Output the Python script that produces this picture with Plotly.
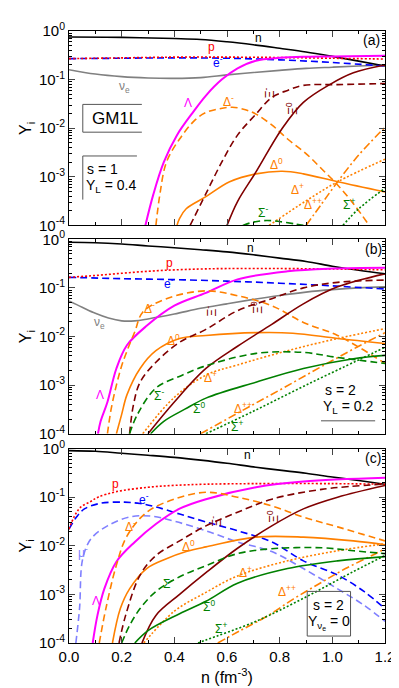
import plotly.graph_objects as go
from plotly.subplots import make_subplots

# ---------- panel (a): GM1L, s = 1, Y_L = 0.4 ----------
a_n_x = [0, 0.2, 0.4, 0.5, 0.6, 0.7, 0.8, 0.9, 1.0, 1.1, 1.2]
a_n_y = [0.75, 0.74, 0.70, 0.67, 0.60, 0.52, 0.44, 0.37, 0.30, 0.24, 0.19]
a_p_x = [0, 0.2, 0.4, 0.6, 0.8, 1.0, 1.2]
a_p_y = [0.27, 0.28, 0.29, 0.29, 0.285, 0.275, 0.265]
a_e_x = [0, 0.2, 0.4, 0.6, 0.8, 1.0, 1.2]
a_e_y = [0.27, 0.275, 0.28, 0.275, 0.255, 0.225, 0.19]
a_nu_x = [0, 0.1, 0.2, 0.3, 0.4, 0.5, 0.6, 0.7, 0.8, 0.9, 1.0, 1.1, 1.2]
a_nu_y = [0.16, 0.13, 0.115, 0.108, 0.106, 0.11, 0.125, 0.14, 0.155, 0.17, 0.18, 0.19, 0.2]
a_lam_x = [0.29, 0.32, 0.36, 0.41, 0.47, 0.52, 0.58, 0.64, 0.71, 0.8, 0.9, 1.0, 1.2]
a_lam_y = [1e-4, 4.3e-4, 2.0e-3, 7.2e-3, 0.021, 0.047, 0.10, 0.17, 0.245, 0.28, 0.295, 0.30, 0.31]
a_dm_x = [0.33, 0.345, 0.37, 0.42, 0.48, 0.52, 0.57, 0.62, 0.67, 0.71, 0.77, 0.83, 0.9, 0.96, 1.02, 1.08, 1.14]
a_dm_y = [1e-4, 4.3e-4, 2.0e-3, 6.0e-3, 0.015, 0.021, 0.025, 0.027, 0.024, 0.0195, 0.0117, 6.0e-3, 3.0e-3, 1.45e-3, 6.8e-4, 2.8e-4, 1e-4]
a_d0_x = [0.41, 0.42, 0.445, 0.52, 0.61, 0.71, 0.81, 0.89, 1.02, 1.2]
a_d0_y = [1e-4, 1.4e-4, 2.2e-4, 3.9e-4, 7.9e-4, 1.15e-3, 1.3e-3, 1.15e-3, 7.9e-4, 4.9e-4]
a_xm_x = [0.46, 0.52, 0.58, 0.64, 0.71, 0.77, 0.83, 0.89, 1.02, 1.2]
a_xm_y = [1e-4, 4.5e-4, 2.0e-3, 7.2e-3, 0.0195, 0.043, 0.06, 0.076, 0.079, 0.083]
a_x0_x = [0.6, 0.64, 0.71, 0.81, 0.89, 0.99, 1.08, 1.2]
a_x0_y = [1e-4, 3.1e-4, 1.26e-3, 0.01, 0.034, 0.079, 0.138, 0.2]
a_dp_x = [0.76, 0.9, 1.02, 1.2]
a_dp_y = [1e-4, 3.2e-4, 7.9e-4, 2.3e-3]
a_dpp_x = [0.9, 0.96, 1.02, 1.1, 1.2]
a_dpp_y = [1e-4, 2.8e-4, 7.9e-4, 2.8e-3, 0.0105]
a_sm_x = [0.66, 0.7, 0.75, 0.8, 0.86, 0.89]
a_sm_y = [1e-4, 1.17e-4, 1.26e-4, 1.2e-4, 1.07e-4, 1e-4]
a_sp_x = [1.04, 1.1, 1.2]
a_sp_y = [1e-4, 2.2e-4, 5.8e-4]

# ---------- panel (b): s = 2, Y_L = 0.2 ----------
b_n_x = [0, 0.1, 0.2, 0.3, 0.4, 0.5, 0.6, 0.7, 0.8, 0.9, 1.0, 1.1, 1.2]
b_n_y = [0.87, 0.85, 0.8, 0.73, 0.67, 0.61, 0.55, 0.48, 0.41, 0.35, 0.28, 0.23, 0.195]
b_p_x = [0, 0.1, 0.2, 0.3, 0.4, 0.5, 0.6, 0.8, 1.0, 1.2]
b_p_y = [0.165, 0.18, 0.2, 0.22, 0.235, 0.245, 0.25, 0.25, 0.245, 0.235]
b_e_x = [0, 0.2, 0.4, 0.6, 0.8, 1.0, 1.2]
b_e_y = [0.165, 0.155, 0.148, 0.138, 0.125, 0.11, 0.095]
b_nu_x = [0, 0.05, 0.1, 0.15, 0.2, 0.25, 0.3, 0.4, 0.5, 0.6, 0.7, 0.8, 0.9, 1.0, 1.1, 1.2]
b_nu_y = [0.054, 0.04, 0.03, 0.024, 0.021, 0.021, 0.023, 0.029, 0.038, 0.047, 0.058, 0.07, 0.082, 0.092, 0.1, 0.105]
b_lam_x = [0.11, 0.12, 0.146, 0.18, 0.22, 0.295, 0.4, 0.52, 0.64, 0.83, 1.0, 1.2]
b_lam_y = [1e-4, 1.8e-4, 4.5e-4, 2.2e-3, 6.6e-3, 0.0166, 0.043, 0.079, 0.15, 0.22, 0.25, 0.26]
b_dm_x = [0.146, 0.16, 0.18, 0.2, 0.22, 0.25, 0.28, 0.37, 0.52, 0.64, 0.77, 0.89, 1.02, 1.2]
b_dm_y = [1e-4, 3.2e-4, 1e-3, 2.5e-3, 5e-3, 0.0126, 0.0316, 0.06, 0.087, 0.069, 0.043, 0.0195, 0.0105, 2.8e-3]
b_d0_x = [0.18, 0.2, 0.22, 0.27, 0.33, 0.42, 0.52, 0.71, 0.85, 1.02, 1.2]
b_d0_y = [1e-4, 2.5e-4, 6.3e-4, 2.2e-3, 5.1e-3, 9.1e-3, 0.0105, 0.012, 0.0117, 9.1e-3, 7.2e-3]
b_xm_x = [0.23, 0.245, 0.27, 0.33, 0.42, 0.52, 0.64, 0.77, 0.89, 1.02, 1.2]
b_xm_y = [1e-4, 4e-4, 1.15e-3, 2.95e-3, 7.6e-3, 0.014, 0.034, 0.06, 0.1, 0.13, 0.145]
b_x0_x = [0.3, 0.4, 0.52, 0.64, 0.77, 0.89, 1.02, 1.2]
b_x0_y = [1e-4, 4.5e-4, 2.2e-3, 6.3e-3, 0.0178, 0.047, 0.105, 0.195]
b_sm_x = [0.23, 0.26, 0.33, 0.43, 0.51, 0.71, 0.89, 1.02, 1.2]
b_sm_y = [1e-4, 2.5e-4, 8.7e-4, 1.6e-3, 2.4e-3, 4.5e-3, 4.7e-3, 3.7e-3, 2.8e-3]
b_s0_x = [0.31, 0.36, 0.44, 0.52, 0.71, 0.89, 1.08, 1.2]
b_s0_y = [1e-4, 1.8e-4, 3.2e-4, 5.4e-4, 1.15e-3, 2.2e-3, 3.5e-3, 4.1e-3]
b_dp_x = [0.28, 0.4, 0.52, 0.64, 0.83, 1.02, 1.2]
b_dp_y = [1e-4, 5.6e-4, 1.6e-3, 2.6e-3, 5.1e-3, 9.1e-3, 0.0145]
b_dpp_x = [0.5, 0.6, 0.7, 0.8, 0.9, 1.0, 1.1, 1.2]
b_dpp_y = [1e-4, 2e-4, 4e-4, 7.9e-4, 1.6e-3, 3.2e-3, 6.3e-3, 0.012]
b_sp_x = [0.52, 0.7, 0.9, 1.1, 1.2]
b_sp_y = [1e-4, 2.9e-4, 1e-3, 3.3e-3, 6e-3]

# ---------- panel (c): s = 2, Y_nu_e = 0 ----------
c_n_x = [0, 0.1, 0.2, 0.3, 0.4, 0.5, 0.6, 0.7, 0.8, 0.9, 1.0, 1.1, 1.2]
c_n_y = [0.91, 0.88, 0.8, 0.73, 0.66, 0.58, 0.5, 0.42, 0.36, 0.31, 0.26, 0.22, 0.185]
c_p_x = [0, 0.02, 0.045, 0.08, 0.11, 0.18, 0.3, 0.4, 0.52, 0.7, 1.0, 1.2]
c_p_y = [0.022, 0.04, 0.063, 0.08, 0.1, 0.13, 0.16, 0.175, 0.185, 0.19, 0.19, 0.185]
c_e_x = [0, 0.03, 0.06, 0.12, 0.21, 0.27, 0.33, 0.42, 0.52, 0.64, 0.77, 0.89, 1.02, 1.12, 1.2]
c_e_y = [0.022, 0.04, 0.058, 0.075, 0.079, 0.074, 0.063, 0.045, 0.031, 0.0204, 0.012, 4.9e-3, 2.5e-3, 1.15e-3, 5.1e-4]
c_mu_x = [0.026, 0.04, 0.052, 0.083, 0.146, 0.23, 0.31, 0.4, 0.52, 0.64, 0.77, 0.89, 1.02, 1.12, 1.2]
c_mu_y = [1e-4, 5.1e-4, 5.4e-3, 0.0138, 0.0257, 0.039, 0.041, 0.032, 0.0204, 0.012, 7.6e-3, 3.4e-3, 1.3e-3, 6e-4, 2.8e-4]
c_lam_x = [0.09, 0.108, 0.134, 0.18, 0.25, 0.33, 0.42, 0.52, 0.71, 0.89, 1.2]
c_lam_y = [1e-4, 3.7e-4, 1.3e-3, 4.7e-3, 0.012, 0.028, 0.058, 0.091, 0.16, 0.21, 0.25]
c_dm_x = [0.115, 0.14, 0.18, 0.22, 0.295, 0.4, 0.52, 0.64, 0.77, 0.89, 1.02, 1.2]
c_dm_y = [1e-4, 5.1e-4, 4e-3, 0.0158, 0.049, 0.091, 0.126, 0.1, 0.066, 0.039, 0.0245, 0.0126]
c_d0_x = [0.165, 0.195, 0.23, 0.295, 0.37, 0.445, 0.52, 0.71, 0.89, 1.08, 1.2]
c_d0_y = [1e-4, 5.1e-4, 1.3e-3, 3.4e-3, 5.4e-3, 7.6e-3, 9.5e-3, 0.0151, 0.0151, 0.0126, 0.0105]
c_xm_x = [0.19, 0.215, 0.27, 0.33, 0.42, 0.52, 0.64, 0.77, 0.96, 1.2]
c_xm_y = [1e-4, 3.7e-4, 2.5e-3, 6.3e-3, 0.0126, 0.0257, 0.049, 0.091, 0.145, 0.186]
c_x0_x = [0.277, 0.33, 0.42, 0.52, 0.64, 0.77, 0.89, 1.02, 1.2]
c_x0_y = [1e-4, 3.7e-4, 1e-3, 2.8e-3, 8.9e-3, 0.0257, 0.0575, 0.1, 0.174]
c_sm_x = [0.2, 0.23, 0.27, 0.33, 0.42, 0.52, 0.64, 0.77, 0.96, 1.08, 1.2]
c_sm_y = [1e-4, 2.3e-4, 5.1e-4, 1.15e-3, 2.3e-3, 3.9e-3, 6.9e-3, 8.7e-3, 9.1e-3, 7.9e-3, 6.9e-3]
c_s0_x = [0.25, 0.3, 0.42, 0.52, 0.64, 0.83, 1.02, 1.2]
c_s0_y = [1e-4, 1.8e-4, 4e-4, 7.2e-4, 1.7e-3, 3.4e-3, 4.9e-3, 6e-3]
c_dp_x = [0.284, 0.4, 0.52, 0.64, 0.83, 1.02, 1.2]
c_dp_y = [1e-4, 4.5e-4, 1.1e-3, 2.4e-3, 4.9e-3, 7.9e-3, 0.011]
c_sp_x = [0.49, 0.52, 0.71, 0.89, 1.08, 1.2]
c_sp_y = [1e-4, 1.15e-4, 2.8e-4, 8.3e-4, 2.95e-3, 6.3e-3]
c_dpp_x = [0.565, 0.65, 0.75, 0.85, 0.95, 1.05, 1.15, 1.2]
c_dpp_y = [1e-4, 1.8e-4, 3.5e-4, 7.9e-4, 1.66e-3, 3.4e-3, 6.3e-3, 8.7e-3]

x_ticks = [0, 0.2, 0.4, 0.6, 0.8, 1.0, 1.2]
y_ticks = [1e-4, 1e-3, 1e-2, 1e-1, 1]
y_ticktext = ["10<sup>-4</sup>", "10<sup>-3</sup>", "10<sup>-2</sup>", "10<sup>-1</sup>", "10<sup>0</sup>"]

ORANGE = "#ff8000"
MAROON = "#800000"
GREEN = "#008000"
DASH = "7px,4px"
DOT = "2px,2px"
DASHDOT = "8px,3px,2px,3px"
STYLE = {
    "n": ("black", "solid"), "p": ("#ff0000", DOT), "e": ("#0000ff", DASH),
    "nu": ("#808080", "solid"), "mu": ("#8080ff", DASH), "lam": ("#ff00ff", "solid"),
    "dm": (ORANGE, DASH), "d0": (ORANGE, "solid"), "dp": (ORANGE, DOT), "dpp": (ORANGE, DASHDOT),
    "xm": (MAROON, DASH), "x0": (MAROON, "solid"),
    "sm": (GREEN, DASH), "s0": (GREEN, "solid"), "sp": (GREEN, DOT),
}

g = globals()
panels = {
    1: ("a", ["nu", "n", "e", "p", "lam", "dm", "d0", "dp", "dpp", "xm", "x0", "sm", "sp"]),
    2: ("b", ["nu", "n", "e", "p", "lam", "dm", "d0", "dp", "dpp", "xm", "x0", "sm", "s0", "sp"]),
    3: ("c", ["n", "mu", "e", "p", "lam", "dm", "d0", "dp", "dpp", "xm", "x0", "sm", "s0", "sp"]),
}

fig = make_subplots(rows=3, cols=1)
for row, (pre, keys) in panels.items():
    for k in keys:
        col, dash = STYLE[k]
        fig.add_scatter(x=g[f"{pre}_{k}_x"], y=g[f"{pre}_{k}_y"], mode="lines",
                        line=dict(color=col, dash=dash, width=2 if k == "lam" else 1.6, shape="spline"),
                        showlegend=False, row=row, col=1)

minor_y = [m * 10.0 ** e for e in range(-4, 0) for m in range(2, 10)]
for r in (1, 2, 3):
    fig.update_yaxes(type="log", range=[-4, 0], tickvals=y_ticks, ticktext=y_ticktext,
                     ticks="inside", ticklen=6, mirror="allticks", showline=True,
                     linecolor="black", linewidth=1, showgrid=False, zeroline=False,
                     minor=dict(tickmode="array", tickvals=minor_y, ticks="inside", ticklen=3,
                                tickcolor="black", showgrid=False),
                     tickfont=dict(size=15, color="black"), row=r, col=1)
    fig.update_xaxes(range=[0, 1.2], tickvals=x_ticks, tickformat=".1f", ticks="inside",
                     ticklen=6, mirror="allticks", showline=True, linecolor="black",
                     linewidth=1, showgrid=False, zeroline=False, showticklabels=(r == 3),
                     minor=dict(dtick=0.1, ticks="inside", ticklen=3, tickcolor="black"),
                     tickfont=dict(size=15, color="black"), row=r, col=1)

L, T, W, H = 61, 18, 321, 617


def px(x, y):
    return (x - L) / W, (T + H - y) / H


fig.update_layout(yaxis=dict(domain=[px(0, 214)[1], 1]),
                  yaxis2=dict(domain=[px(0, 424)[1], px(0, 228)[1]]),
                  yaxis3=dict(domain=[0, px(0, 439)[1]]))

LABELS = [
    # panel a
    (254, 25, "n", "black"), (206, 34, "p", "#ff0000"), (212, 49, "e<sup>-</sup>", "#0000ff"),
    (117, 74, "ν<sub>e</sub>", "#808080"), (182, 91, "Λ", "#ff00ff"), (223, 89, "Δ<sup>-</sup>", ORANGE),
    (272, 152, "Δ<sup>0</sup>", ORANGE), (293, 177, "Δ<sup>+</sup>", ORANGE), (309, 192, "Δ<sup>++</sup>", ORANGE),
    (258, 200, "Σ<sup>-</sup>", GREEN), (345, 192, "Σ<sup>+</sup>", GREEN),
    # panel b
    (245, 237, "n", "black"), (163, 252, "p", "#ff0000"), (163, 272, "e<sup>-</sup>", "#0000ff"),
    (92, 312, "ν<sub>e</sub>", "#808080"), (143, 297, "Δ<sup>-</sup>", ORANGE), (167, 330, "Δ<sup>0</sup>", ORANGE),
    (92, 385, "Λ", "#ff00ff"), (152, 385, "Σ<sup>-</sup>", GREEN), (193, 398, "Σ<sup>0</sup>", GREEN),
    (205, 367, "Δ<sup>+</sup>", ORANGE), (238, 398, "Δ<sup>++</sup>", ORANGE), (232, 416, "Σ<sup>+</sup>", GREEN),
    # panel c
    (242, 445, "n", "black"), (108, 475, "p", "#ff0000"), (137, 490, "e<sup>-</sup>", "#0000ff"),
    (75, 543, "μ<sup>-</sup>", "#8080ff"), (88, 593, "Λ", "#ff00ff"), (123, 517, "Δ<sup>-</sup>", ORANGE),
    (182, 537, "Δ<sup>0</sup>", ORANGE), (162, 575, "Σ<sup>-</sup>", GREEN), (203, 598, "Σ<sup>0</sup>", GREEN),
    (240, 563, "Δ<sup>+</sup>", ORANGE), (282, 583, "Δ<sup>++</sup>", ORANGE), (215, 620, "Σ<sup>+</sup>", GREEN),
]
XI_LABELS = [
    (265, 80, "Ξ<sup>-</sup>"), (288, 96, "Ξ<sup>0</sup>"),
    (205, 300, "Ξ<sup>-</sup>"), (252, 297, "Ξ<sup>0</sup>"),
    (210, 512, "Ξ<sup>-</sup>"), (268, 507, "Ξ<sup>0</sup>"),
]

ann = []
for x, y, t, c in LABELS:
    xx, yy = px(x, y)
    ann.append(dict(x=xx, y=yy, text=t, font=dict(size=12, color=c)))
for x, y, t in XI_LABELS:
    xx, yy = px(x, y)
    ann.append(dict(x=xx, y=yy, text=t, textangle=-90, font=dict(size=12, color=MAROON)))

TEXTS = [
    (368, 27, "(a)", 14), (370, 238, "(b)", 14), (370, 448, "(c)", 14),
    (108, 106, "GM1L", 17),
    (95, 157, "s = 1", 14), (104, 174, "Y<sub>L</sub> = 0.4", 14),
    (337, 380, "s = 2", 14), (344, 397, "Y<sub>L</sub> = 0.2", 14),
    (325, 597, "s = 2", 14), (325, 614, "Y<sub>ν<sub>e</sub></sub> = 0", 14),
]
for x, y, t, s in TEXTS:
    xx, yy = px(x, y)
    ann.append(dict(x=xx, y=yy, text=t, font=dict(size=s, color="black")))

for yc in (116, 326, 537):
    xx, yy = px(18, yc)
    ann.append(dict(x=xx, y=yy, text="Y<sub>i</sub>", textangle=-90, font=dict(size=16, color="black")))
xx, yy = px(222, 668)
ann.append(dict(x=xx, y=yy, text="n (fm<sup>-3</sup>)", font=dict(size=16, color="black")))

for a in ann:
    a.update(xref="paper", yref="paper", showarrow=False, xanchor="center", yanchor="middle")

SEGS = [
    ((75, 92), (135, 92)), ((75, 92), (75, 120)), ((75, 120), (135, 120)),
    ((75, 144), (130, 144)), ((75, 144), (75, 188)),
    ((317, 411), (372, 411)),
]
shapes = []
for (x0, y0), (x1, y1) in SEGS:
    a0, b0 = px(x0, y0)
    a1, b1 = px(x1, y1)
    shapes.append(dict(type="line", xref="paper", yref="paper", x0=a0, y0=b0, x1=a1, y1=b1,
                       line=dict(color="#555555", width=1)))
a0, b0 = px(303, 583)
a1, b1 = px(347, 628)
shapes.append(dict(type="rect", xref="paper", yref="paper", x0=a0, y0=b0, x1=a1, y1=b1,
                   line=dict(color="#555555", width=1)))

fig.update_layout(width=399, height=688, margin=dict(l=L, r=399 - L - W, t=T, b=688 - T - H),
                  paper_bgcolor="white", plot_bgcolor="white",
                  font=dict(family="Liberation Sans, Arial, sans-serif", color="black"),
                  annotations=ann, shapes=shapes, showlegend=False)

fig.write_html("out.html")
